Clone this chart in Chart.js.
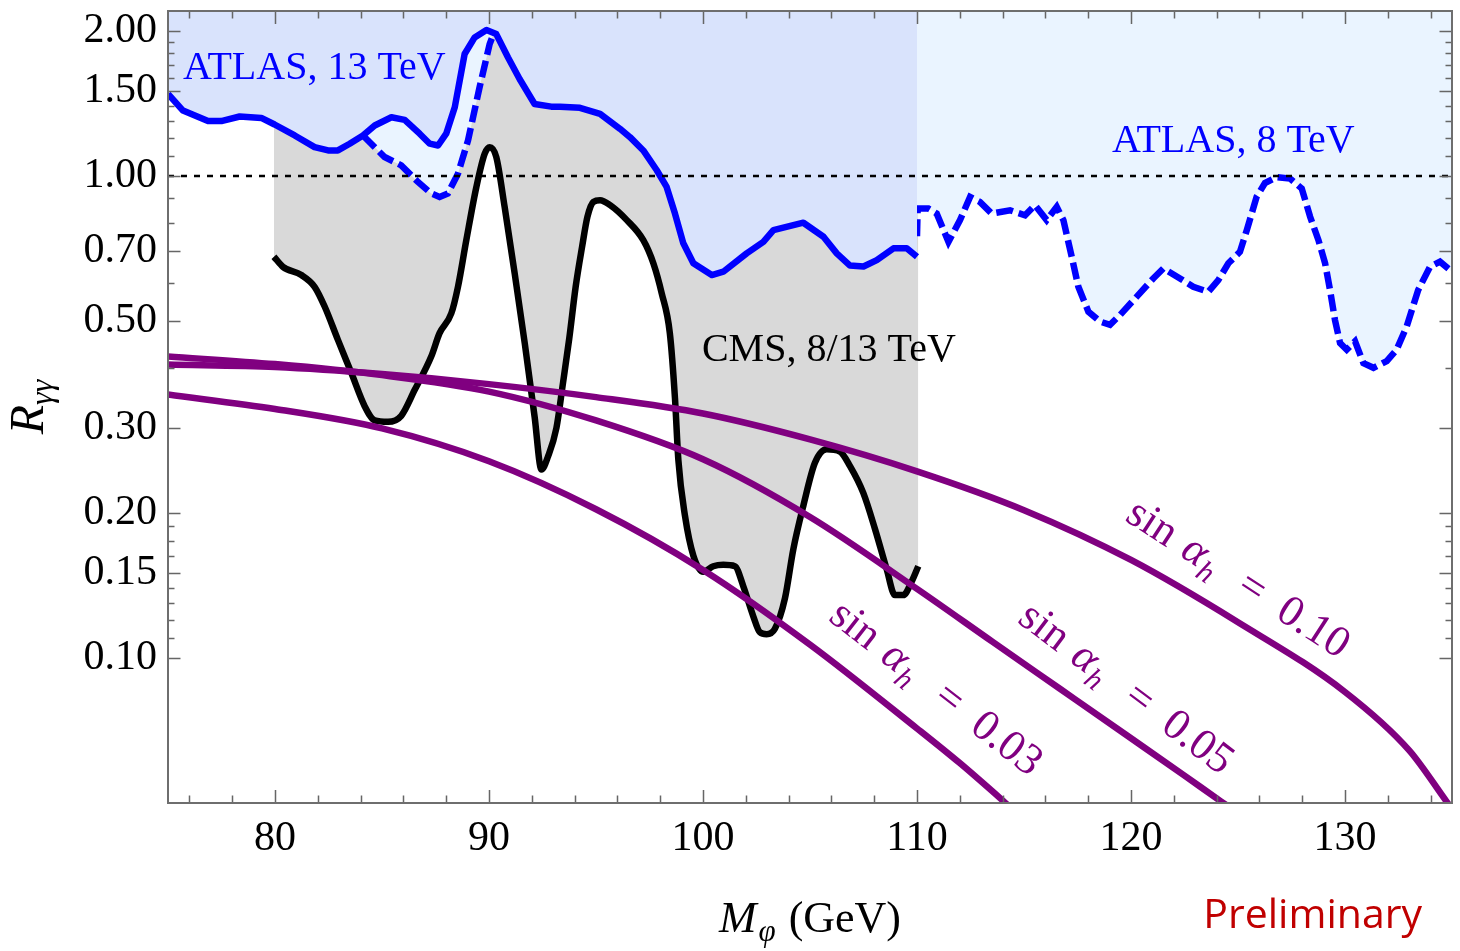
<!DOCTYPE html>
<html>
<head>
<meta charset="utf-8">
<script src="https://cdn.jsdelivr.net/npm/chart.js@4.4.1/dist/chart.umd.min.js"></script>
<style>
  html, body { margin: 0; padding: 0; background: #fff; overflow: hidden; }
</style>
</head>
<body>
<canvas id="chart" width="1460" height="951"></canvas>
<script>
// ATLAS 13 TeV limit (solid)
const atlas13X = [75, 75.7, 76.87, 77.49, 78.35, 79.36, 79.98, 80.92, 81.85, 82.48, 82.94, 83.49, 84.11, 84.66, 85.44, 86.06, 86.76, 87.23, 87.62, 88.0, 88.4, 88.86, 89.33, 89.88, 90.34, 90.89, 91.43, 92.13, 92.91, 93.32, 94.25, 95.19, 96.12, 96.59, 97.21, 97.84, 98.3, 98.69, 99.08, 99.55, 100.41, 100.95, 102.04, 102.82, 103.29, 104.69, 105.63, 106.25, 106.87, 107.5, 108.12, 108.9, 109.52, 110];
const atlas13Y = [1.48, 1.367, 1.30, 1.30, 1.329, 1.32, 1.279, 1.214, 1.148, 1.13, 1.13, 1.167, 1.214, 1.273, 1.324, 1.308, 1.224, 1.167, 1.157, 1.224, 1.389, 1.791, 1.939, 2.008, 1.97, 1.762, 1.59, 1.411, 1.393, 1.393, 1.385, 1.346, 1.253, 1.204, 1.13, 1.028, 0.949, 0.836, 0.725, 0.659, 0.623, 0.633, 0.691, 0.730, 0.772, 0.80, 0.748, 0.691, 0.652, 0.649, 0.669, 0.708, 0.708, 0.68];

// ATLAS 8 TeV limit (dashed), visible pieces
const atlas8aX = [84.11, 85.12, 85.9, 86.68, 87.3, 87.69, 88.08, 88.55, 89.02, 89.56, 90.03, 90.19];
const atlas8aY = [1.214, 1.095, 1.052, 0.972, 0.920, 0.905, 0.920, 1.011, 1.185, 1.528, 1.878, 1.96];
const atlas8bX = [110, 110.03, 110.53, 110.92, 111.47, 112.01, 112.48, 112.94, 113.49, 114.35, 115.05, 115.51, 116.06, 116.53, 116.84, 117.23, 117.54, 118.01, 118.55, 119.02, 119.49, 120.27, 121.04, 121.51, 122.29, 122.91, 123.61, 124.08, 124.55, 125.09, 125.41, 125.87, 126.26, 126.81, 127.43, 127.98, 128.37, 128.76, 129.07, 129.3, 129.53, 129.77, 130.08, 130.47, 130.86, 131.33, 131.95, 132.41, 132.88, 133.42, 133.97, 134.44, 135];
const atlas8bY = [0.75, 0.856, 0.856, 0.836, 0.730, 0.81, 0.905, 0.884, 0.836, 0.849, 0.829, 0.870, 0.810, 0.863, 0.810, 0.680, 0.589, 0.523, 0.499, 0.491, 0.515, 0.562, 0.613, 0.643, 0.613, 0.589, 0.575, 0.608, 0.659, 0.696, 0.772, 0.905, 0.967, 0.995, 0.988, 0.942, 0.823, 0.736, 0.659, 0.580, 0.503, 0.450, 0.436, 0.454, 0.409, 0.400, 0.413, 0.436, 0.487, 0.580, 0.648, 0.664, 0.633];

// CMS 8/13 TeV limit
const cmsX = [79.95, 80.37, 81.23, 81.85, 82.32, 82.94, 83.57, 84.19, 84.66, 85.28, 85.9, 86.53, 87.3, 87.69, 88.24, 88.55, 88.94, 89.41, 89.8, 90.03, 90.34, 90.73, 91.2, 91.67, 92.13, 92.45, 92.76, 93.15, 93.45, 93.75, 94.05, 94.35, 94.6, 94.88, 95.19, 95.66, 96.44, 97.21, 97.68, 98.07, 98.45, 98.69, 98.85, 99.16, 99.55, 100.01, 100.48, 100.95, 101.49, 101.88, 102.35, 102.66, 102.97, 103.36, 103.83, 104.22, 104.69, 105.23, 105.78, 106.4, 106.87, 107.49, 108.04, 108.58, 108.97, 109.36, 109.75, 110.06];
const cmsY = [0.680, 0.648, 0.623, 0.589, 0.536, 0.457, 0.390, 0.333, 0.311, 0.309, 0.318, 0.360, 0.422, 0.472, 0.519, 0.589, 0.736, 0.949, 1.113, 1.148, 1.095, 0.863, 0.628, 0.450, 0.317, 0.246, 0.262, 0.30, 0.37, 0.46, 0.589, 0.713, 0.823, 0.884, 0.891, 0.870, 0.810, 0.736, 0.659, 0.571, 0.472, 0.346, 0.257, 0.197, 0.163, 0.151, 0.155, 0.156, 0.155, 0.141, 0.122, 0.113, 0.112, 0.115, 0.133, 0.168, 0.207, 0.254, 0.271, 0.268, 0.250, 0.220, 0.185, 0.153, 0.135, 0.135, 0.144, 0.155];

// model predictions
const sin03X = [75, 80, 85, 90, 95, 100, 105, 110, 112, 114.05, 114.4];
const sin03Y = [0.352, 0.3285, 0.2994, 0.2559, 0.2035, 0.1523, 0.1066, 0.0714, 0.0605, 0.0504, 0.0488];
const sin05X = [75, 80, 85, 90, 95, 100, 105, 110, 113.57, 116.68, 119.8, 122.5, 124.2, 124.6];
const sin05Y = [0.4223, 0.4071, 0.3862, 0.357, 0.311, 0.2583, 0.196, 0.1391, 0.1077, 0.0863, 0.0691, 0.057, 0.0504, 0.049];
const sin10X = [75, 80, 85, 90, 95, 100, 105, 110, 115, 120, 125, 130, 133, 134.74, 135];
const sin10Y = [0.4061, 0.4013, 0.3881, 0.370, 0.3477, 0.3215, 0.2841, 0.2439, 0.2026, 0.1597, 0.1186, 0.085, 0.0643, 0.0504, 0.0486];

// ticks
const xMajor = [80, 90, 100, 110, 120, 130];
const xMinor = [76, 78, 82, 84, 86, 88, 92, 94, 96, 98, 102, 104, 106, 108, 112, 114, 116, 118, 122, 124, 126, 128, 132, 134];
const yMajor = [0.10, 0.15, 0.20, 0.30, 0.50, 0.70, 1.00, 1.50, 2.00];
const yMinor = [0.11, 0.12, 0.13, 0.14, 0.1625, 0.175, 0.1875, 0.4, 0.6, 0.8, 0.9, 1.1, 1.2, 1.3, 1.4, 1.6, 1.7, 1.8, 1.9];

const serif = "'Liberation Serif', 'Times New Roman', serif";
const purple = '#800080';

const pts = (xs, ys) => xs.map((x, i) => ({ x: x, y: ys[i] }));

// label pieces: [text, font, gap before, baseline shift]
function drawPieces(ctx, pieces, x0, y0, align) {
  let total = 0;
  pieces.forEach(p => { ctx.font = p[1]; total += p[2] + ctx.measureText(p[0]).width; });
  let x = align === 'center' ? x0 - total / 2 : (align === 'right' ? x0 - total : x0);
  pieces.forEach(p => {
    ctx.font = p[1];
    x += p[2];
    ctx.fillText(p[0], x, y0 + p[3]);
    x += ctx.measureText(p[0]).width;
  });
}

function sinLabel(val) {
  return [
    ['sin', '44px ' + serif, 0, 0],
    ['\u03b1', 'italic 44px ' + serif, 14, 0],
    ['h', 'italic 30px ' + serif, 1, 9],
    ['=', '44px ' + serif, 28, 0],
    [val, '44px ' + serif, 22, 0]
  ];
}

const curveLabels = [
  { x: 110.96, y: 0.0872, angle: 38, text: '0.03' },
  { x: 119.84, y: 0.0872, angle: 37, text: '0.05' },
  { x: 125.07, y: 0.1473, angle: 33, text: '0.10' }
];

const decorations = {
  id: 'decorations',
  afterDatasetsDraw(chart) {
    const ctx = chart.ctx;
    const { left, right, top, bottom } = chart.chartArea;
    const xs = chart.scales.x, ys = chart.scales.y;
    ctx.save();
    ctx.textAlign = 'left';
    ctx.textBaseline = 'alphabetic';

    // in-plot labels
    ctx.font = '40px ' + serif;
    ctx.fillStyle = '#0000ff';
    ctx.fillText('ATLAS, 13 TeV', xs.getPixelForValue(75.7), ys.getPixelForValue(1.59));
    ctx.fillText('ATLAS, 8 TeV', xs.getPixelForValue(119.11), ys.getPixelForValue(1.12));
    ctx.fillStyle = '#000';
    ctx.fillText('CMS, 8/13 TeV', xs.getPixelForValue(99.95), ys.getPixelForValue(0.4125));

    ctx.fillStyle = purple;
    curveLabels.forEach(l => {
      ctx.save();
      ctx.translate(xs.getPixelForValue(l.x), ys.getPixelForValue(l.y));
      ctx.rotate(l.angle * Math.PI / 180);
      drawPieces(ctx, sinLabel(l.text), 0, 15, 'center');
      ctx.restore();
    });

    // frame ticks, pointing inwards on all four sides
    ctx.strokeStyle = '#666';
    ctx.lineWidth = 1.5;
    ctx.beginPath();
    const xt = (v, len) => {
      const p = Math.round(xs.getPixelForValue(v)) + 0.5;
      ctx.moveTo(p, bottom); ctx.lineTo(p, bottom - len);
      ctx.moveTo(p, top); ctx.lineTo(p, top + len);
    };
    const yt = (v, len) => {
      const p = Math.round(ys.getPixelForValue(v)) + 0.5;
      ctx.moveTo(left, p); ctx.lineTo(left + len, p);
      ctx.moveTo(right, p); ctx.lineTo(right - len, p);
    };
    xMajor.forEach(v => xt(v, 13));
    xMinor.forEach(v => xt(v, 7.5));
    yMajor.forEach(v => yt(v, 12.5));
    yMinor.forEach(v => yt(v, 6.5));
    ctx.stroke();
    ctx.lineWidth = 2;
    ctx.strokeStyle = '#6e6e6e';
    ctx.strokeRect(left, top, right - left, bottom - top);

    // axis titles
    ctx.fillStyle = '#000';
    drawPieces(ctx, [
      ['M', 'italic 45px ' + serif, 0, 0],
      ['\u03c6', 'italic 31px ' + serif, 2, 9],
      ['(GeV)', '44px ' + serif, 13, 0]
    ], (left + right) / 2, bottom + 129, 'center');

    ctx.save();
    ctx.translate(43, (top + bottom) / 2);
    ctx.rotate(-Math.PI / 2);
    drawPieces(ctx, [
      ['R', 'italic 48px ' + serif, 0, 0],
      ['\u03b3\u03b3', 'italic 32px ' + serif, 0, 9]
    ], 0, 0, 'center');
    ctx.restore();

    ctx.fillStyle = '#c00000';
    ctx.font = "41px 'Open Sans', 'Liberation Sans', sans-serif";
    ctx.textAlign = 'right';
    ctx.fillText('Preliminary', right - 30, bottom + 125);
    ctx.restore();
  }
};

const lineBase = { pointRadius: 0, pointHoverRadius: 0, clip: 0, borderJoinStyle: 'round' };

new Chart(document.getElementById('chart'), {
  type: 'line',
  data: {
    datasets: [
      Object.assign({}, lineBase, { label: 'R=1', data: pts([75, 135], [1, 1]), borderColor: '#000', borderWidth: 2.5, borderDash: [6, 7], fill: false, order: 0 }),
      Object.assign({}, lineBase, { label: 'sin 0.03', data: pts(sin03X, sin03Y), borderColor: purple, borderWidth: 6.5, cubicInterpolationMode: 'monotone', fill: false, order: 1 }),
      Object.assign({}, lineBase, { label: 'sin 0.05', data: pts(sin05X, sin05Y), borderColor: purple, borderWidth: 6.5, cubicInterpolationMode: 'monotone', fill: false, order: 1 }),
      Object.assign({}, lineBase, { label: 'sin 0.10', data: pts(sin10X, sin10Y), borderColor: purple, borderWidth: 6.5, cubicInterpolationMode: 'monotone', fill: false, order: 1 }),
      Object.assign({}, lineBase, { label: 'ATLAS 13 TeV', data: pts(atlas13X, atlas13Y), borderColor: '#0000ff', borderWidth: 6.5, tension: 0, fill: 'end', backgroundColor: '#d9e3fc', order: 2 }),
      Object.assign({}, lineBase, { label: 'ATLAS 8 TeV a', data: pts(atlas8aX, atlas8aY), borderColor: '#0000ff', borderWidth: 6.5, borderDash: [17, 6], borderJoinStyle: 'miter', tension: 0, fill: 'end', backgroundColor: '#eaf4ff', order: 3 }),
      Object.assign({}, lineBase, { label: 'ATLAS 8 TeV b', data: pts(atlas8bX, atlas8bY), borderColor: '#0000ff', borderWidth: 6.5, borderDash: [17, 6], borderJoinStyle: 'miter', tension: 0, fill: 'end', backgroundColor: '#eaf4ff', order: 3 }),
      Object.assign({}, lineBase, { label: 'CMS', data: pts(cmsX, cmsY), borderColor: '#000', borderWidth: 6.5, cubicInterpolationMode: 'monotone', fill: 'end', backgroundColor: '#d9d9d9', order: 4 })
    ]
  },
  options: {
    responsive: false,
    animation: false,
    devicePixelRatio: 1,
    layout: { padding: { top: 11, right: 8, bottom: 0, left: 0 } },
    plugins: { legend: { display: false }, tooltip: { enabled: false } },
    events: [],
    scales: {
      x: {
        type: 'linear', min: 75, max: 135,
        grid: { display: false, drawTicks: false },
        border: { display: false },
        ticks: { autoSkip: false, maxRotation: 0, padding: 11, color: '#000', font: { family: serif, size: 42 } },
        afterBuildTicks: s => { s.ticks = xMajor.map(v => ({ value: v })); },
        afterFit: s => { s.height = 148; s.paddingLeft = 0; s.paddingRight = 0; s.paddingTop = 0; s.paddingBottom = 0; }
      },
      y: {
        type: 'logarithmic', min: 0.05, max: 2.2,
        grid: { display: false, drawTicks: false },
        border: { display: false },
        ticks: { autoSkip: false, padding: 11, color: '#000', font: { family: serif, size: 42 }, callback: v => Number(v).toFixed(2) },
        afterBuildTicks: s => { s.ticks = yMajor.map(v => ({ value: v })); },
        afterFit: s => { s.width = 168; s.paddingLeft = 0; s.paddingRight = 0; s.paddingTop = 0; s.paddingBottom = 0; }
      }
    }
  },
  plugins: [decorations]
});
</script>
</body>
</html>
